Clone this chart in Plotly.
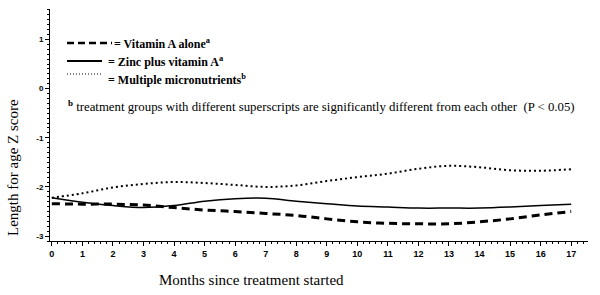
import plotly.graph_objects as go

months = list(range(18))
vitamin_a = [-2.34, -2.35, -2.35, -2.37, -2.42, -2.47, -2.50, -2.54, -2.58, -2.65,
             -2.71, -2.74, -2.75, -2.75, -2.71, -2.65, -2.57, -2.50]
zinc_vit_a = [-2.22, -2.31, -2.38, -2.42, -2.38, -2.29, -2.24, -2.23, -2.29, -2.34,
              -2.39, -2.41, -2.43, -2.43, -2.43, -2.41, -2.38, -2.35]
multiple = [-2.22, -2.13, -2.01, -1.94, -1.90, -1.92, -1.96, -2.00, -1.97, -1.88,
            -1.80, -1.73, -1.63, -1.57, -1.60, -1.66, -1.67, -1.64]
x_ticks = list(range(18))
y_ticks = [-3, -2, -1, 0, 1]

fig = go.Figure()
fig.add_trace(go.Scatter(x=months, y=vitamin_a, mode="lines", line_shape="spline",
                         line=dict(color="black", width=3, dash="8px,5px"), showlegend=False))
fig.add_trace(go.Scatter(x=months, y=zinc_vit_a, mode="lines", line_shape="spline",
                         line=dict(color="black", width=1.5), showlegend=False))
fig.add_trace(go.Scatter(x=months, y=multiple, mode="lines", line_shape="spline",
                         line=dict(color="black", width=2, dash="2px,3px"), showlegend=False))

fig.update_xaxes(range=[-0.06, 17.55], tickvals=x_ticks, ticktext=[str(v) for v in x_ticks],
                 showline=True, linecolor="black", linewidth=1, ticks="outside", ticklen=4,
                 tickcolor="black", showgrid=False, zeroline=False,
                 tickfont=dict(family="Liberation Sans", size=9, color="black", weight="bold"),
                 minor=dict(dtick=0.2, tick0=0, ticks="outside", ticklen=2, tickcolor="black"))
fig.update_yaxes(range=[-3.1, 1.62], tickvals=y_ticks, ticktext=[str(v) for v in y_ticks],
                 showline=True, linecolor="black", linewidth=1, ticks="outside", ticklen=4,
                 tickcolor="black", showgrid=False, zeroline=False,
                 tickfont=dict(family="Liberation Sans", size=8, color="black", weight="bold"),
                 minor=dict(dtick=0.1, tick0=0, ticks="outside", ticklen=2, tickcolor="black"))

serif = "Liberation Serif"


def px(x):
    return (x - 50) / 538.0


def py(y):
    return (241 - y) / 232.0


ann = []
ann.append(dict(text="Length for age Z score", x=px(13), y=py(168), xref="paper", yref="paper",
                xanchor="center", yanchor="middle",
                textangle=-90, showarrow=False, font=dict(family=serif, size=15, color="black")))
ann.append(dict(text="Months since treatment started", x=px(251), y=py(280), xref="paper", yref="paper",
                xanchor="center", yanchor="middle",
                showarrow=False, font=dict(family=serif, size=15, color="black")))
ann.append(dict(text="<b>= Vitamin A alone<sup>a</sup></b>", x=px(112), y=py(43), xref="paper", yref="paper",
                xanchor="left", yanchor="middle", showarrow=False,
                font=dict(family=serif, size=12, color="black")))
ann.append(dict(text="<b>= Zinc plus vitamin A<sup>a</sup></b>", x=px(106), y=py(61), xref="paper", yref="paper",
                xanchor="left", yanchor="middle", showarrow=False,
                font=dict(family=serif, size=12, color="black")))
ann.append(dict(text="<b>= Multiple micronutrients<sup>b</sup></b>", x=px(106), y=py(79), xref="paper", yref="paper",
                xanchor="left", yanchor="middle", showarrow=False,
                font=dict(family=serif, size=12, color="black")))
ann.append(dict(text="<sup><b>b</b></sup> treatment groups with different superscripts are significantly different from each other  (P &lt; 0.05)",
                x=px(66), y=py(106), xref="paper", yref="paper",
                xanchor="left", yanchor="middle", showarrow=False,
                font=dict(family=serif, size=12.8, color="black")))

shapes = [
    dict(type="line", xref="paper", yref="paper", x0=px(67), x1=px(112), y0=py(43), y1=py(43),
         line=dict(color="black", width=2.5, dash="7px,4px")),
    dict(type="line", xref="paper", yref="paper", x0=px(67), x1=px(102), y0=py(61), y1=py(61),
         line=dict(color="black", width=2)),
    dict(type="line", xref="paper", yref="paper", x0=px(67), x1=px(101), y0=py(74), y1=py(74),
         line=dict(color="black", width=1, dash="1px,2px")),
]

fig.update_layout(width=600, height=295, margin=dict(l=50, r=12, t=9, b=54),
                  plot_bgcolor="white", paper_bgcolor="white",
                  annotations=ann, shapes=shapes, showlegend=False)
fig.write_html("out.html", config={"displayModeBar": False},
               post_script="document.body.style.margin='0';")
